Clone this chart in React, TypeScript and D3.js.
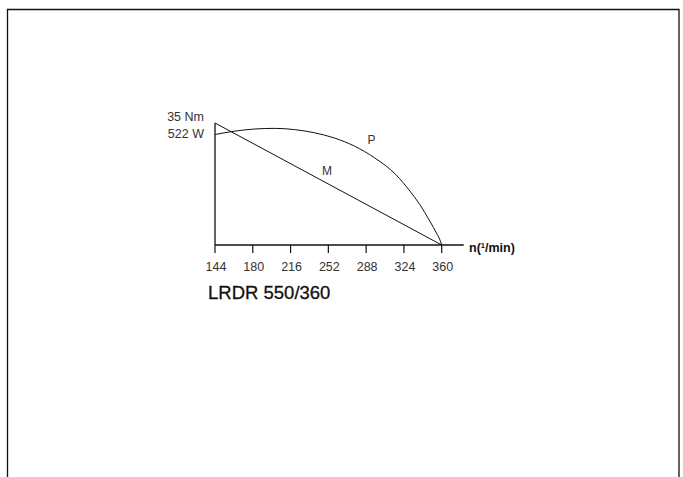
import React from "react";
import * as d3 from "d3";

const speedTicks = [144, 180, 216, 252, 288, 324, 360];
const torqueN = [144, 360];
const torqueM = [35, 0];
const powerN = [144, 163, 182, 201, 220, 239, 258, 277, 296, 316, 330, 339, 349, 355, 358, 360];
const powerP = [522, 538, 548, 551, 545, 530, 505, 467, 412, 334, 253, 192, 110, 57, 28, 0];
const yLabels = ["35 Nm", "522 W"];
const title = "LRDR 550/360";

export default function App() {
  const x = d3.scaleLinear().domain([144, 360]).range([215, 441.7]);
  const yM = d3.scaleLinear().domain([0, 35]).range([245, 123]);
  const yP = d3.scaleLinear().domain([0, 522]).range([245, 134.5]);

  const mLine = d3
    .line<number>()
    .x((_, i) => x(torqueN[i]))
    .y((d) => yM(d))(torqueM) as string;

  const pLine = d3
    .line<number>()
    .x((_, i) => x(powerN[i]))
    .y((d) => yP(d))
    .curve(d3.curveMonotoneX)(powerP) as string;

  const font = "'Liberation Sans', Arial, sans-serif";
  const axisEnd = x(381);

  return (
    <svg
      width={683}
      height={477}
      style={{ position: "absolute", left: 0, top: 0, background: "#fff" }}
      fontFamily={font}
    >
      {/* frame */}
      <path d="M7.5,520 V9.5 H679 V520" fill="none" stroke="#111" strokeWidth={1.3} />

      {/* axes */}
      <line x1={x(144)} x2={x(144)} y1={yM(35)} y2={yM(0)} stroke="#111" strokeWidth={1.3} />
      <line x1={x(144)} x2={axisEnd} y1={yM(0)} y2={yM(0)} stroke="#111" strokeWidth={1.3} />
      {speedTicks.map((t) => (
        <g key={t}>
          <line x1={x(t)} x2={x(t)} y1={yM(0)} y2={yM(0) + 8} stroke="#111" strokeWidth={1.2} />
          <text x={x(t) + 1} y={271} textAnchor="middle" fontSize={12.5} fill="#333">
            {t}
          </text>
        </g>
      ))}

      {/* curves */}
      <path d={mLine} fill="none" stroke="#111" strokeWidth={1} />
      <path d={pLine} fill="none" stroke="#111" strokeWidth={1} />

      {/* y labels */}
      <text x={204} y={121} textAnchor="end" fontSize={12.5} fill="#333">
        {yLabels[0]}
      </text>
      <text x={204} y={137.5} textAnchor="end" fontSize={12.5} fill="#333">
        {yLabels[1]}
      </text>

      {/* curve labels */}
      <text x={371.5} y={143.5} textAnchor="middle" fontSize={12} fill="#333">P</text>
      <text x={327} y={175} textAnchor="middle" fontSize={12} fill="#333">M</text>

      {/* axis label */}
      <text x={469} y={252} fontSize={12.5} fill="#111" fontWeight={600}>
        n(
        <tspan fontSize={7.5} dy={-4}>1</tspan>
        <tspan dy={4}>/min)</tspan>
      </text>

      {/* title */}
      <text x={208} y={298.5} fontSize={18.5} fill="#111" fontWeight={500} stroke="#111" strokeWidth={0.3}>
        {title}
      </text>
    </svg>
  );
}
